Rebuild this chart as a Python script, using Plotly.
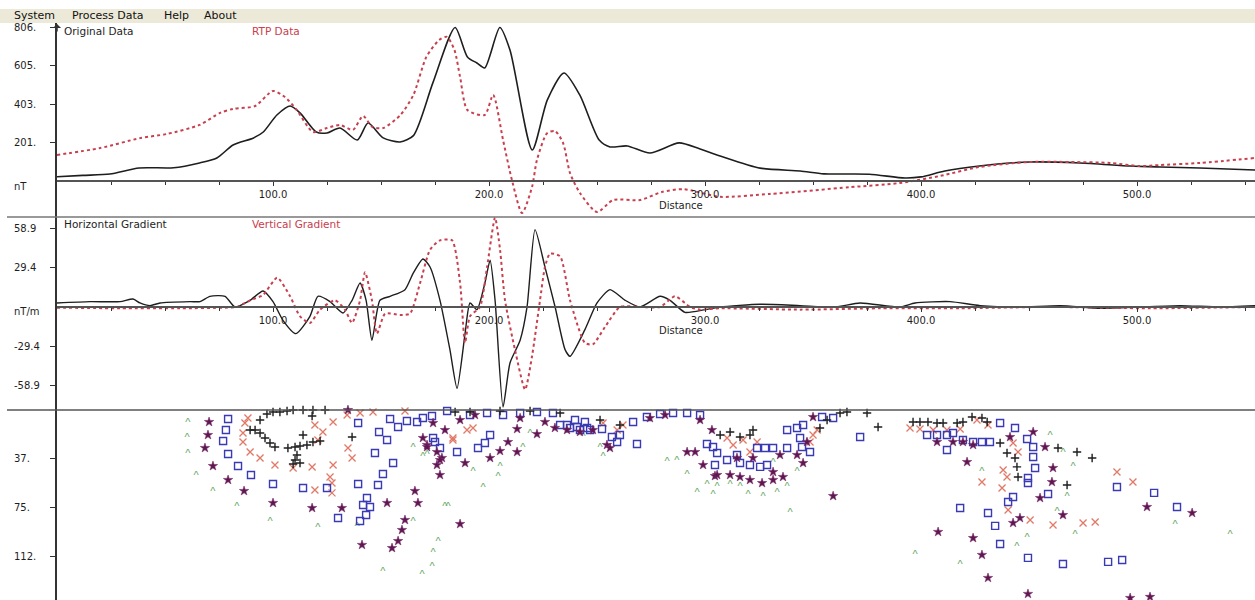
import plotly.graph_objects as go

W, H = 1255, 600

# ---------------- Profile: total magnetic field (nT) ----------------
orig_x = [0, 12, 24.5, 38, 54, 66, 74, 81.5, 91, 95.5, 101.8, 108, 112.5, 120, 125, 131,
          139, 144, 151, 158.8, 165, 174, 184.3, 190, 194.4, 198, 205, 209.7, 220, 227,
          234.7, 242, 251, 256, 264, 274.5, 288, 297.7, 307, 325.5, 344, 355, 376, 392.6,
          400, 411, 427, 450, 473.6, 497, 510.6, 529, 554.6]
orig_y = [25, 32, 39, 71, 72, 97, 123, 191, 228, 259, 348, 395, 359, 259, 254, 280,
          217, 306, 228, 207, 240, 516, 806, 652, 620, 594, 806, 688, 165, 427,
          568, 453, 217, 181, 186, 149, 202, 170, 134, 70, 55, 40, 38, 18,
          24, 55, 81, 102, 97, 81, 76, 71, 60]

rtp_x = [0, 20, 38.4, 51, 66, 75.5, 81.5, 91.7, 100, 105.5, 111, 118.5, 125, 131, 137,
         141.7, 146, 151, 159, 165, 171, 177, 180.5, 184, 186.6, 190, 198, 201.9, 206.5,
         210.6, 215.3, 219.9, 222.2, 226.9, 230.6, 234.3, 237.5, 242.1, 250, 257.4, 270,
         280, 290, 307, 330, 367, 390, 408.8, 427, 450, 469, 487.5, 501, 510.6, 529, 554.6]
rtp_y = [139, 175, 227, 249, 296, 359, 380, 395, 474, 442, 374, 259, 280, 296, 270,
         343, 285, 280, 348, 453, 652, 741, 757, 688, 547, 374, 348, 453, 217,
         8, -165, -29, 113, 253, 264, 201, 44, -60, -160, -97, -97,
         -55, -40, -80, -65, -30, -8, 29, 76, 102, 102, 97, 81, 86, 97, 123]

# ---------------- Gradients (nT/m) ----------------
hg_x = [0, 15.3, 29.2, 35.2, 38.4, 43.1, 47.7, 61.6, 66.2, 70.8, 77.8, 82.4, 89.4, 95.4,
        100, 104.6, 110.6, 117.1, 120.8, 126.4, 132.4, 136.6, 140.3, 143.1, 145.8, 149.5,
        154.2, 161.1, 164.8, 169.4, 172.7, 177.3, 181.9, 185.2, 188.9, 191.2, 194.4, 198.1,
        200.5, 202.8, 206.5, 209.7, 214.4, 217.6, 221.3, 225.9, 230.6, 235.2, 237.5, 244.4,
        250, 256, 263, 269.9, 279.2, 283.8, 290.7, 300, 307, 325.5, 344, 360.2, 371.8,
        390.3, 397.2, 413.4, 427.3, 445.8, 464.4, 482.9, 501.4, 519.9, 538.4, 554.6]
hg_y = [3, 4, 4, 6, 3, 1, 3, 4, 4, 8, 8, 0, 5, 12,
        4, -10, -20, -7, 8, 4, -4.5, 5, 18, 5, -25, 5,
        8, 13, 25, 36, 30, 5, -32, -61, -20, 3, -2, 18,
        35, 5, -75, -42, -25, 0, 58, 30, 0, -32, -37, -17,
        3, 13, 5, 0, 8, 5, -4, -2, 0, 2, 1, 0, 3,
        0, 3, 4, 1, 0, 1, -1, 0, 1, 0, 1]

vg_x = [0, 29.2, 56.9, 77.8, 83.3, 89.4, 95.4, 101.9, 107.9, 112.5, 117.1, 121.8, 128.7,
        133.3, 136.6, 140.3, 142.6, 145.8, 148.1, 151.9, 158.8, 163.4, 168.1, 172.7, 177.3,
        182.9, 186.6, 188.9, 191.2, 195.8, 199.1, 202.8, 205.1, 207.4, 212, 216.7, 219.9,
        223.6, 225.9, 228.2, 232.9, 237.5, 244.4, 248.1, 253.7, 260.6, 269.9, 279.2, 286.1,
        293.1, 297.7, 307, 344, 381, 418.1, 459.7, 506, 554.6]
vg_y = [-0.5, -1, -1, -0.5, 0, 5, 9, 22, 8, -7, -12, -2, 5,
        -2, -12, 5, 26, 5, -20, -5, -6, -5, 18, 43, 50,
        50, 18, -27, -7, 0, 30, 67, 43, 5, -32, -62, -37,
        5, 30, 40, 38, 5, -27, -28, -15, 0, 0, 0, 8,
        0, -2, -1, -2, -1, -1, 0, -1, 0]

# ---------------- Depth solutions (distance, depth) ----------------
square_pts = [(79.2, 6.9), (78.2, 15.4), (76.9, 23.8), (79.2, 33.8), (83.8, 43.1), (89.8, 50),
              (100, 56.9), (113.9, 60), (125, 60), (139.4, 56.9), (148.6, 57.7), (150.9, 49.2),
              (155.6, 40.8), (147.2, 33.1), (152.8, 23.1), (149.1, 16.9), (139.4, 10),
              (154.2, 6.9), (157.9, 13.1), (162, 8.5), (166.7, 9.2), (169.4, 6.2), (173.6, 4.6),
              (180.6, 0.8), (143.5, 67.7), (141.7, 73.1), (144.9, 74.6), (143.1, 80.8),
              (140.3, 85.4), (130.1, 83.1), (174.1, 21.5), (177.3, 29.2), (185.2, 32.3),
              (175, 24.6), (194.9, 29.2), (198.1, 25.4), (200.5, 19.2), (191.2, 3.8),
              (199.1, 2.3), (206.5, 3.8), (214.4, 2.3), (222.2, 1.5), (229.6, 2.3), (236.1, 11.5),
              (240.7, 13.1), (245.4, 13.8), (252.3, 14.6), (256.9, 20.8), (259.3, 24.6),
              (260.6, 19.2), (268.5, 26.2), (266.7, 9.2), (273.1, 5.4), (279.2, 3.1),
              (285.2, 2.3), (291.7, 2.3), (297.7, 3.8), (300.9, 26.2), (303.7, 28.5),
              (304.6, 42.3), (232.9, 11.5), (237.5, 13.8), (242.1, 15.4), (246.8, 15.4),
              (239.8, 7.7), (244.4, 9.2), (305.6, 33.1), (310.2, 38.5), (314.8, 34.6),
              (316.2, 40.8), (320.8, 42.3), (325.5, 43.8), (328.7, 42.3), (324.1, 29.2),
              (327.8, 29.2), (331.5, 29.2), (338, 29.2), (344.9, 28.5), (348.6, 32.3),
              (344, 21.5), (342.6, 13.8), (338, 15.4), (345.4, 11.5), (354.2, 5.4), (359.3, 6.2),
              (371.8, 20.8), (402.8, 19.2), (407.4, 19.2), (412, 19.2), (414.8, 17.7),
              (419.4, 23.1), (424.1, 24.6), (428.2, 24.6), (431.9, 24.6), (412, 30.8),
              (436.6, 10), (443.5, 13.8), (449.1, 22.3), (451.9, 28.5), (451.9, 36.2),
              (452.8, 44.6), (449.5, 52.3), (449.5, 56.2), (458.8, 64.6), (442.6, 66.9),
              (440.3, 70.8), (418.1, 75.4), (431, 79.2), (434.3, 89.2), (436.6, 103.1),
              (449.5, 113.8), (465.7, 118.5), (486.6, 116.9), (493.1, 115.4), (490.7, 59.2),
              (507.9, 63.8), (518.5, 74.6)]

plus_pts = [(97.2, 3.1), (100, 1.5), (103.2, 1.5), (106.5, 0.8), (109.3, 0), (113.9, 0),
            (118.5, 0), (124.1, 0), (94, 7.7), (91.7, 15.4), (94, 17.7), (96.3, 21.5),
            (98.6, 25.4), (100.9, 28.5), (106.9, 29.2), (110.2, 28.5), (112.5, 27.7),
            (115.7, 26.9), (118.5, 24.6), (121.8, 23.8), (111.1, 34.6), (110.2, 38.5),
            (109.3, 41.5), (112.5, 40.8), (113.9, 19.2), (118.1, 4.6), (136.6, 20.8),
            (89.4, 15.4), (184.3, 1.5), (191.2, 1.5), (205.1, 0.8), (219, 0.8), (232.9, 2.3),
            (251.4, 7.7), (260.6, 11.5), (307, 19.2), (311.6, 16.9), (316.2, 20.8),
            (320.8, 19.2), (322.2, 15.4), (353.2, 13.8), (356.5, 7.7), (362.5, 2.3),
            (365.7, 1.5), (375, 2.3), (380.1, 13.1), (396.3, 9.2), (399.5, 9.2), (403.2, 9.2),
            (407.4, 10), (410.2, 10), (416.7, 10), (419.4, 9.2), (423.6, 5.4), (428.2, 6.2),
            (430.6, 9.2), (436.6, 25.4), (439.8, 33.1), (443.5, 36.9), (444.4, 43.8),
            (444.9, 51.5), (463.4, 29.2), (472.2, 32.3), (479.2, 36.9), (467.6, 57.7)]

xmark_pts = [(88.4, 6.2), (87, 10), (86.1, 17.7), (86.1, 24.6), (89.4, 32.3), (94, 36.9),
             (100.9, 42.3), (109.3, 44.6), (118.1, 43.8), (119.4, 11.5), (123.1, 16.9),
             (120.8, 23.1), (127.8, 9.2), (134.3, 3.8), (134.7, 29.2), (136.6, 36.9),
             (127.8, 42.3), (126.4, 51.5), (127.3, 56.2), (127.3, 63.8), (119.4, 61.5),
             (140.3, 2.3), (146.3, 1.5), (161.1, 0.8), (183.3, 23.1), (183.3, 21.5),
             (189.8, 15.4), (192.6, 13.8), (252.8, 10), (259.3, 15.4), (262, 11.5),
             (310.2, 21.5), (313, 26.9), (317.6, 23.1), (320.8, 32.3), (324.1, 24.6),
             (348.6, 24.6), (350, 19.2), (351.9, 15.4), (394.9, 13.8), (399.5, 14.6),
             (405.6, 15.4), (412, 15.4), (418.1, 14.6), (425.9, 7.7), (431, 11.5),
             (442.6, 25.4), (439.8, 51.5), (438, 46.2), (428.2, 55.4), (437.5, 60),
             (440.3, 76.9), (450.5, 84.6), (461.1, 88.5), (475, 86.9), (480.6, 86.2),
             (490.7, 47.7), (498.1, 55.4), (444.9, 32.3)]

star_pts = [(70.4, 9.2), (69.9, 19.2), (68.5, 29.2), (72.2, 43.1), (79.2, 53.8), (86.6, 62.3),
            (100, 71.5), (118.1, 75.4), (131.9, 75.4), (134.7, 0), (152.8, 71.5), (165.7, 62.3),
            (167.1, 71.5), (159.7, 92.3), (157.9, 100.8), (155.1, 106.2), (141.2, 103.8),
            (161.1, 84.6), (177.3, 50), (175.9, 42.3), (178.2, 36.9), (169.4, 21.5),
            (171.3, 26.9), (175.9, 32.3), (174.1, 10), (171.3, 28.5), (177.3, 38.5),
            (188.9, 40.8), (200.5, 36.9), (205.1, 31.5), (213, 32.3), (208.8, 24.6),
            (213, 14.6), (222.2, 18.5), (236.1, 15.4), (242.1, 16.9), (248.1, 15.4),
            (254.6, 26.9), (256, 29.2), (291.7, 32.3), (295.4, 32.3), (299.1, 42.3),
            (304.6, 50.8), (186.6, 87.7), (179.6, 15.4), (186.6, 7.7), (193.5, 3.8),
            (214.4, 6.2), (225.9, 9.2), (230.5, 13.8), (274.5, 6.2), (281.5, 3.8),
            (297.7, 7.7), (303.2, 15.4), (305.6, 50), (311.6, 50), (316.2, 51.5),
            (320.8, 53.8), (326.4, 56.2), (331.5, 53.8), (336.1, 51.5), (322.2, 36.9),
            (314.8, 36.9), (342.6, 34.6), (345.4, 40.8), (331.5, 47.7), (359.3, 66.2),
            (334.7, 34.6), (347.2, 24.6), (350, 5.4), (407.4, 24.6), (414.8, 24.6),
            (419.4, 24.6), (424.1, 26.9), (421.3, 40), (441.2, 20.8), (451.9, 16.9),
            (457.4, 28.5), (461.1, 44.6), (460.6, 55.4), (455.1, 67.7), (465.7, 80.8),
            (445.8, 83.1), (442.6, 86.9), (424.1, 98.5), (428.2, 111.5), (431, 129.2),
            (449.5, 141.5), (407.9, 93.8), (504.6, 74.6), (525.5, 79.2), (496.8, 144.6),
            (506, 143.8)]

caret_pts = [(60.6, 10), (60.2, 21.5), (60.6, 33.8), (64.4, 50.8), (72.2, 63.1), (83.3, 74.6),
             (98.6, 86.2), (120.8, 90.8), (138.9, 90), (164.8, 29.2), (169.4, 36.2),
             (164.8, 86.2), (176.4, 101.5), (174.1, 110), (173.6, 120.8), (169, 126.9),
             (150.9, 124.6), (179.6, 74.6), (171.3, 34.6), (192.6, 47.7), (205.1, 43.8),
             (204.2, 51.5), (215.7, 29.2), (219, 18.5), (197.2, 60), (243.5, 20.8),
             (251.4, 29.2), (252.8, 36.2), (282.4, 40), (287, 39.2), (291.7, 50),
             (296.3, 63.8), (300.9, 57.7), (303.7, 65.4), (181, 74.6), (305.6, 59.2),
             (311.6, 57.7), (316.2, 59.2), (319.9, 65.4), (326.9, 66.9), (333.3, 63.8),
             (338, 59.2), (339.4, 79.2), (331.5, 40.8), (342.6, 47.7), (459.7, 20),
             (465.7, 33.1), (470.4, 43.8), (467.6, 66.9), (463, 78.5), (471.3, 96.2),
             (449.1, 98.5), (444.4, 105.4), (418.1, 119.2), (397.2, 111.5), (428.2, 47.7),
             (517.6, 88.5), (543.1, 96.2)]

# ---------------- Axis ticks and labels ----------------
dist_ticks = [100, 200, 300, 400, 500]
dist_labels = ["100.0", "200.0", "300.0", "400.0", "500.0"]
field_ticks = [806, 604.5, 403, 201.5]
field_labels = ["806.", "605.", "403.", "201."]
grad_ticks = [58.9, 29.45, -29.45, -58.9]
grad_labels = ["58.9", "29.4", "-29.4", "-58.9"]
depth_ticks = [37.5, 75, 112.5]
depth_labels = ["37.", "75.", "112."]
menu_items = ["System", "Process Data", "Help", "About"]
menu_px = [12, 70, 162, 202]

FONT = "DejaVu Sans"
FS = 11
RED = "#c8404e"
INK = "#1e1e1e"

# window geometry (pixels)
AXIS_PX = 57
MENU_TOP, MENU_BOT = 9, 23
P1_BOT, P2_BOT = 217, 410


def py(p):
    return 1 - p / H


x_dom = [AXIS_PX / W, 1]
x_rng = [0, 554.6]
y1_rng = [-185.8, 829.4]
y2_rng = [-77.3, 67.5]
y3_rng = [146.2, 0]
d1 = [py(P1_BOT), py(MENU_BOT)]
d2 = [py(P2_BOT), py(P1_BOT)]
d3 = [0, py(P2_BOT)]


def zero_pos(dom, rng):
    return dom[0] + (0 - rng[0]) / (rng[1] - rng[0]) * (dom[1] - dom[0])


fig = go.Figure()

# profile curves
fig.add_trace(go.Scatter(x=orig_x, y=orig_y, mode="lines", xaxis="x", yaxis="y",
                         line=dict(color=INK, width=1.6, shape="spline", smoothing=0.7)))
fig.add_trace(go.Scatter(x=rtp_x, y=rtp_y, mode="lines", xaxis="x", yaxis="y",
                         line=dict(color=RED, width=2, dash="3px,3px", shape="spline",
                                   smoothing=0.7)))
# gradient curves
fig.add_trace(go.Scatter(x=hg_x, y=hg_y, mode="lines", xaxis="x2", yaxis="y2",
                         line=dict(color=INK, width=1.4, shape="spline", smoothing=0.6)))
fig.add_trace(go.Scatter(x=vg_x, y=vg_y, mode="lines", xaxis="x2", yaxis="y2",
                         line=dict(color=RED, width=2, dash="3px,3px", shape="spline",
                                   smoothing=0.6)))


def solutions(pts, **kw):
    xs = [p[0] for p in pts]
    ds = [p[1] for p in pts]
    fig.add_trace(go.Scatter(x=xs, y=ds, xaxis="x3", yaxis="y3", cliponaxis=False, **kw))


# caret solutions are drawn as "^" glyphs
solutions(caret_pts, mode="text", text=["^"] * len(caret_pts),
          textfont=dict(family="Liberation Sans", size=11, color="#64a864"))
solutions(xmark_pts, mode="markers",
          marker=dict(symbol="x-thin", size=7, color="#e07a68",
                      line=dict(color="#e07a68", width=1.3)))
solutions(square_pts, mode="markers",
          marker=dict(symbol="square-open", size=7, color="#3a3ab4",
                      line=dict(color="#3a3ab4", width=1.4)))
solutions(star_pts, mode="markers",
          marker=dict(symbol="star", size=7, color="#5e1850",
                      line=dict(color="#7a2a6c", width=0.6)))
solutions(plus_pts, mode="markers",
          marker=dict(symbol="cross-thin", size=6, color=INK, line=dict(color=INK, width=1.4)))

xcommon = dict(domain=x_dom, range=x_rng, showgrid=False, zeroline=False, fixedrange=True)
xticked = dict(xcommon, showline=True, linecolor="#555", linewidth=1.5,
               tickmode="array", tickvals=dist_ticks, ticktext=dist_labels,
               ticks="outside", ticklen=4, tickcolor="#333",
               minor=dict(tickmode="array", tickvals=list(range(25, 551, 25)),
                          ticks="outside", ticklen=3, tickcolor="#333"),
               tickfont=dict(family=FONT, size=10, color=INK), anchor="free")
ycommon = dict(showgrid=False, zeroline=False, showline=True, linecolor="#333",
               linewidth=2, ticks="outside", ticklen=5, tickcolor="#333",
               showticklabels=False, tickmode="array", fixedrange=True)

fig.update_layout(
    width=W, height=H,
    margin=dict(l=0, r=0, t=0, b=0),
    paper_bgcolor="white", plot_bgcolor="white",
    showlegend=False,
    xaxis=dict(xticked, position=zero_pos(d1, y1_rng)),
    xaxis2=dict(xticked, position=zero_pos(d2, y2_rng)),
    xaxis3=dict(xcommon, visible=False, anchor="y3"),
    yaxis=dict(ycommon, domain=d1, range=y1_rng, tickvals=field_ticks, anchor="x"),
    yaxis2=dict(ycommon, domain=d2, range=y2_rng, tickvals=grad_ticks, anchor="x2"),
    yaxis3=dict(ycommon, domain=d3, range=y3_rng, tickvals=depth_ticks, anchor="x3"),
)

# menu bar
fig.add_shape(type="rect", xref="paper", yref="paper", x0=0, x1=1,
              y0=py(MENU_BOT), y1=py(MENU_TOP), fillcolor="#ece9d8", line_width=0,
              layer="below")
for name, px in zip(menu_items, menu_px):
    fig.add_annotation(text=name, xref="paper", yref="paper", x=px / W,
                       y=py((MENU_TOP + MENU_BOT) / 2), xanchor="left", yanchor="middle",
                       showarrow=False, font=dict(family=FONT, size=FS, color="#111"))

# panel separators
for ypx, col in ((P1_BOT, "#777"), (P2_BOT, "#555")):
    fig.add_shape(type="line", xref="paper", yref="paper", x0=7 / W, x1=1,
                  y0=py(ypx), y1=py(ypx), line=dict(color=col, width=1.6))

# arrow tip on the vertical axis
fig.add_annotation(xref="paper", yref="paper", x=AXIS_PX / W, y=py(24), ax=0, ay=9,
                   text="", showarrow=True, arrowhead=1, arrowsize=0.9, arrowwidth=1.5,
                   arrowcolor="#333")

# vertical tick labels
LABEL_X = 12 / W
for yref, ticks, labels in (("y", field_ticks, field_labels),
                            ("y2", grad_ticks, grad_labels),
                            ("y3", depth_ticks, depth_labels)):
    for v, t in zip(ticks, labels):
        fig.add_annotation(text=t, xref="paper", yref=yref, x=LABEL_X, y=v,
                           xanchor="left", yanchor="middle", showarrow=False,
                           font=dict(family=FONT, size=10, color=INK))
for yref, unit in (("y", "nT"), ("y2", "nT/m")):
    fig.add_annotation(text=unit, xref="paper", yref=yref, x=LABEL_X, y=0, yshift=-5,
                       xanchor="left", yanchor="middle", showarrow=False,
                       font=dict(family=FONT, size=10, color=INK))

# panel titles
for ytop, left, right in ((31, "Original Data", "RTP Data"),
                          (224, "Horizontal Gradient", "Vertical Gradient")):
    fig.add_annotation(text=left, xref="paper", yref="paper", x=62 / W, y=py(ytop),
                       xanchor="left", yanchor="middle", showarrow=False,
                       font=dict(family=FONT, size=10.5, color=INK))
    fig.add_annotation(text=right, xref="paper", yref="paper", x=250 / W, y=py(ytop),
                       xanchor="left", yanchor="middle", showarrow=False,
                       font=dict(family=FONT, size=10.5, color=RED))

# axis names
for ypx in (205, 330):
    fig.add_annotation(text="Distance", xref="x", yref="paper", x=289, y=py(ypx),
                       xanchor="center", yanchor="middle", showarrow=False,
                       font=dict(family=FONT, size=10, color=INK))

fig.write_html("out.html")
